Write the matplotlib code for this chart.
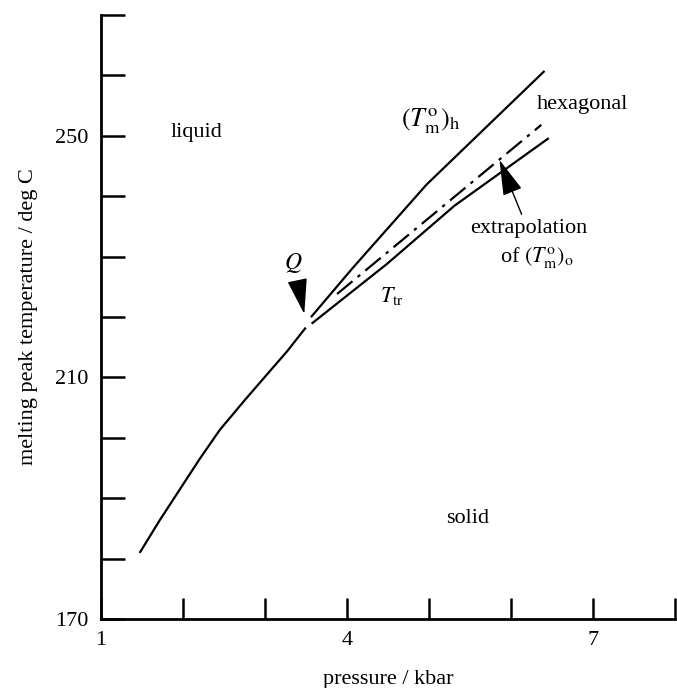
import matplotlib
matplotlib.use("Agg")
import matplotlib.pyplot as plt

plt.rcParams['font.family'] = ['Liberation Serif', 'DejaVu Serif']
plt.rcParams['mathtext.fontset'] = 'stix'

# melting curve below Q
melt_p = [1.48, 1.72, 1.96, 2.21, 2.45, 2.74, 3.02, 3.27, 3.49]
melt_t = [181.1, 186.4, 191.4, 196.6, 201.3, 206.0, 210.4, 214.3, 218.1]

# (T_m^o)_h branch above Q
hex_p = [3.57, 4.07, 4.97, 6.40]
hex_t = [220.1, 228.1, 241.9, 260.6]

# T_tr branch above Q
tr_p = [3.58, 4.49, 5.31, 6.45]
tr_t = [219.0, 228.8, 238.4, 249.5]

# extrapolation of (T_m^o)_o
ext_p = [3.88, 6.37]
ext_t = [223.8, 251.8]

x_ticks = [1, 2, 3, 4, 5, 6, 7, 8]
x_labels = ['1', '', '', '4', '', '', '7', '']
y_ticks = [170, 180, 190, 200, 210, 220, 230, 240, 250, 260, 270]
y_labels = ['170', '', '', '', '210', '', '', '', '250', '', '']


def main():
    fig = plt.figure(figsize=(6.77, 6.88), dpi=100)
    ax = fig.add_axes([0.149, 0.1003, 0.848, 0.878])

    ax.plot(melt_p, melt_t, color='black', lw=1.6)
    ax.plot(hex_p, hex_t, color='black', lw=1.6)
    ax.plot(tr_p, tr_t, color='black', lw=1.6)
    ax.plot(ext_p, ext_t, color='black', lw=1.6, ls=(0, (9, 3, 1.5, 3)))

    ax.set_xlim(1, 8)
    ax.set_ylim(170, 270)
    ax.set_xticks(x_ticks)
    ax.set_xticklabels(x_labels)
    ax.set_yticks(y_ticks)
    ax.set_yticklabels(y_labels)
    ax.tick_params(axis='x', direction='in', length=15, width=1.8, labelsize=16, pad=9)
    ax.tick_params(axis='y', direction='in', length=17, width=1.8, labelsize=16, pad=9)
    for side in ['top', 'right']:
        ax.spines[side].set_visible(False)
    for side in ['left', 'bottom']:
        ax.spines[side].set_linewidth(2.0)

    ax.set_xlabel('pressure / kbar', fontsize=16, labelpad=14)
    ax.set_ylabel('melting peak temperature / deg C', fontsize=16, labelpad=12)

    ax.text(2.16, 250.6, 'liquid', fontsize=16, ha='center', va='center')
    ax.text(5.47, 186.6, 'solid', fontsize=16, ha='center', va='center')
    ax.text(6.87, 255.2, 'hexagonal', fontsize=16, ha='center', va='center')
    ax.text(5.02, 252.3, r'$(T^{\mathrm{o}}_{\mathrm{m}})_{\mathrm{h}}$', fontsize=19,
            ha='center', va='center')
    ax.text(4.55, 223.5, r'$T_{\mathrm{tr}}$', fontsize=16, ha='center', va='center')
    ax.text(6.22, 234.6, 'extrapolation', fontsize=16, ha='center', va='center')
    ax.text(6.32, 229.8, r'of $(T^{\mathrm{o}}_{\mathrm{m}})_{\mathrm{o}}$', fontsize=16,
            ha='center', va='center')

    head = '-|>,head_length=1.6,head_width=0.45'
    ax.annotate(r'$Q$', xy=(3.48, 220.5), xytext=(3.35, 229.0), fontsize=17,
                ha='center', va='center',
                arrowprops=dict(arrowstyle=head, mutation_scale=14, color='black',
                                lw=1.0, shrinkA=9, shrinkB=0))
    ax.annotate('', xy=(5.86, 246.0), xytext=(6.13, 237.0),
                arrowprops=dict(arrowstyle=head, mutation_scale=14, color='black',
                                lw=1.0, shrinkA=0, shrinkB=0))

    fig.savefig('out.png', dpi=100)


if __name__ == '__main__':
    main()
